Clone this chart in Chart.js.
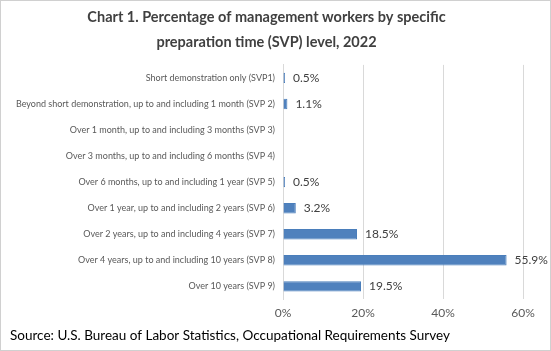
<!DOCTYPE html>
<html>
<head>
<meta charset="utf-8">
<script src="https://cdn.jsdelivr.net/npm/chart.js@4.4.0/dist/chart.umd.min.js"></script>
<style>
  html, body { margin: 0; padding: 0; background: #fff; }
  #wrap { position: relative; width: 551px; height: 351px; }
</style>
</head>
<body>
<div id="wrap"><canvas id="myChart" width="551" height="351"></canvas></div>
<script>
/*---- chart data ----*/
var categories = [
  "Short demonstration only (SVP1)",
  "Beyond short demonstration, up to and including 1 month (SVP 2)",
  "Over 1 month, up to and including 3 months (SVP 3)",
  "Over 3 months, up to and including 6 months (SVP 4)",
  "Over 6 months, up to and including 1 year (SVP 5)",
  "Over 1 year, up to and including 2 years (SVP 6)",
  "Over 2 years, up to and including 4 years (SVP 7)",
  "Over 4 years, up to and including 10 years (SVP 8)",
  "Over 10 years (SVP 9)"
];
var percents = [0.5, 1.1, null, null, 0.5, 3.2, 18.5, 55.9, 19.5];
var tickValues = [0, 20, 40, 60];

var titleLines = ["Chart 1. Percentage of management workers by specific",
                  "preparation time (SVP) level, 2022"];
var sourceText = "Source: U.S. Bureau of Labor Statistics, Occupational Requirements Survey";

var FONT = "Lato, 'Open Sans', sans-serif";

/*---- plugin: outer frame ----*/
var framePlugin = {
  id: 'frame',
  beforeDraw: function(chart) {
    var c = chart.ctx;
    c.save();
    c.fillStyle = '#fff';
    c.fillRect(0, 0, chart.width, chart.height);
    c.strokeStyle = '#d0d0d0';
    c.lineWidth = 1;
    c.strokeRect(0.5, 0.5, chart.width - 1, chart.height - 1);
    c.restore();
  }
};

/*---- plugin: value labels at the end of each bar ----*/
var valueLabels = {
  id: 'valueLabels',
  afterDatasetsDraw: function(chart) {
    var c = chart.ctx;
    var meta = chart.getDatasetMeta(0);
    c.save();
    c.font = "12px " + FONT;
    c.fillStyle = '#404040';
    c.textAlign = 'left';
    c.textBaseline = 'middle';
    meta.data.forEach(function(bar, i) {
      var v = percents[i];
      if (v == null) return;
      c.fillText(v.toFixed(1) + '%', bar.x + 8, bar.y);
    });
    c.restore();
  }
};

var ctx = document.getElementById("myChart").getContext("2d");
var myChart = new Chart(ctx, {
  type: 'bar',
  data: {
    labels: categories,
    datasets: [{
      data: percents,
      backgroundColor: '#4f81bd',
      borderColor: '#4a7ebb',
      borderWidth: 1,
      categoryPercentage: 1,
      barPercentage: 0.4
    }]
  },
  options: {
    indexAxis: 'y',
    responsive: false,
    animation: false,
    layout: { padding: { left: 10, right: 28, top: 0, bottom: 0 } },
    plugins: {
      legend: { display: false },
      tooltip: { enabled: false },
      title: {
        display: true,
        text: titleLines,
        color: '#404040',
        font: { family: FONT, size: 14.5, weight: 'bold', lineHeight: 1.72 },
        padding: { top: 5, bottom: 10 }
      },
      subtitle: {
        display: true,
        text: sourceText,
        position: 'bottom',
        align: 'start',
        color: '#000',
        font: { family: FONT, size: 13.5, lineHeight: 1.2 },
        padding: { top: 0, bottom: 7 }
      }
    },
    scales: {
      x: {
        min: 0,
        max: 60,
        afterBuildTicks: function(scale) {
          scale.ticks = tickValues.map(function(v) { return { value: v }; });
        },
        ticks: {
          color: '#595959',
          font: { family: FONT, size: 12 },
          padding: 7,
          callback: function(v) { return v + '%'; }
        },
        grid: { color: '#d9d9d9', drawTicks: false },
        border: { display: false }
      },
      y: {
        afterFit: function(scale) { scale.width = 273; },
        ticks: {
          color: '#595959',
          font: { family: FONT, size: 9 },
          padding: 8,
          autoSkip: false
        },
        grid: { display: false, drawTicks: false },
        border: { display: true, color: '#d9d9d9' }
      }
    }
  },
  plugins: [framePlugin, valueLabels]
});
</script>
</body>
</html>
